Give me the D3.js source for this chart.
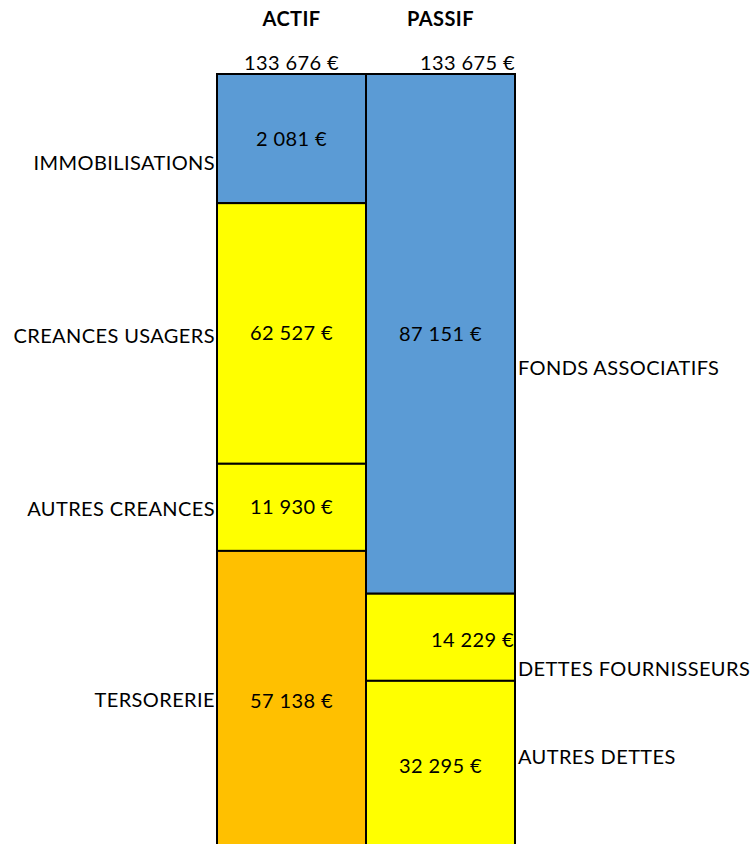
<!DOCTYPE html>
<html>
<head>
<meta charset="utf-8">
<script src="https://cdn.jsdelivr.net/npm/d3@7"></script>
<style>
  body { margin: 0; background: #fff; }
  text { font-family: Lato, "Open Sans", sans-serif; fill: #000; font-size: 20px; letter-spacing: 0.4px; }
</style>
</head>
<body>
<script>
(function(){

    //data
    var columns = ["ACTIF", "PASSIF"];
    var actifCats = ["IMMOBILISATIONS", "CREANCES USAGERS", "AUTRES CREANCES", "TERSORERIE"];
    var actifValues = [2081, 62527, 11930, 57138];
    var actifShares = [16.6, 33.5, 11.2, 38.7]; //height share of the bar
    var passifCats = ["FONDS ASSOCIATIFS", "DETTES FOURNISSEURS", "AUTRES DETTES"];
    var passifValues = [87151, 14229, 32295];
    var passifShares = [66.8, 11.2, 22.0];

    //styles / layout
    var actifColors = ["#5B9BD5", "#FFFF00", "#FFFF00", "#FFC000"];
    var passifColors = ["#5B9BD5", "#FFFF00", "#FFFF00"];
    var actifLabelShift = [24, 3, 2, -1];   //manual nudges of category labels
    var passifLabelShift = [34, 32, -9];

    var width = 752, height = 844;

    var svg = d3.select("body").append("svg")
        .attr("width", width)
        .attr("height", height);

    var x = d3.scaleBand().domain(columns).range([217, 515]).padding(0);
    var y = d3.scaleLinear().domain([0, 100]).range([74, 852]);

    var fr = d3.formatLocale({decimal: ",", thousands: " ", grouping: [3], currency: ["", " €"]});
    var euro = fr.format("$,.0f");

    function segments(cats, values, shares, colors, shifts){
        var ends = d3.cumsum(shares);
        return cats.map(function(c, i){
            return {cat: c, value: values[i], y0: ends[i] - shares[i], y1: ends[i], color: colors[i], shift: shifts[i]};
        });
    }

    var actif = segments(actifCats, actifValues, actifShares, actifColors, actifLabelShift);
    var passif = segments(passifCats, passifValues, passifShares, passifColors, passifLabelShift);

    function drawColumn(col, segs){
        var g = svg.append("g").attr("class", "col");
        g.selectAll("rect")
            .data(segs)
            .enter()
            .append("rect")
            .attr("x", x(col))
            .attr("width", x.bandwidth())
            .attr("y", function(d){ return y(d.y0); })
            .attr("height", function(d){ return y(d.y1) - y(d.y0); })
            .style("fill", function(d){ return d.color; })
            .style("stroke", "#000")
            .style("stroke-width", 2);
    }
    drawColumn("ACTIF", actif);
    drawColumn("PASSIF", passif);

    var base = 7; //baseline offset to centre text vertically

    //value labels
    svg.selectAll(".vA")
        .data(actif)
        .enter()
        .append("text")
        .attr("x", x("ACTIF") + x.bandwidth() / 2)
        .attr("y", function(d){ return (y(d.y0) + y(d.y1)) / 2 + base; })
        .attr("text-anchor", "middle")
        .text(function(d){ return euro(d.value); });

    svg.selectAll(".vP")
        .data(passif)
        .enter()
        .append("text")
        .attr("x", function(d, i){ return i == 1 ? x("PASSIF") + x.bandwidth() - 1 : x("PASSIF") + x.bandwidth() / 2; })
        .attr("y", function(d, i){ return (y(d.y0) + y(d.y1)) / 2 + base + (i == 1 ? 3 : 0); })
        .attr("text-anchor", function(d, i){ return i == 1 ? "end" : "middle"; })
        .text(function(d){ return euro(d.value); });

    //category labels
    svg.selectAll(".cA")
        .data(actif)
        .enter()
        .append("text")
        .attr("x", x("ACTIF") - 2)
        .attr("y", function(d){ return (y(d.y0) + y(d.y1)) / 2 + d.shift + base; })
        .attr("text-anchor", "end")
        .text(function(d){ return d.cat; });

    svg.selectAll(".cP")
        .data(passif)
        .enter()
        .append("text")
        .attr("x", x("PASSIF") + x.bandwidth() + 3)
        .attr("y", function(d){ return (y(d.y0) + y(d.y1)) / 2 + d.shift + base; })
        .attr("text-anchor", "start")
        .text(function(d){ return d.cat; });

    //column titles
    svg.selectAll(".title")
        .data(columns)
        .enter()
        .append("text")
        .attr("x", function(d){ return x(d) + x.bandwidth() / 2; })
        .attr("y", 26)
        .attr("text-anchor", "middle")
        .style("font-weight", "bold")
        .text(function(d){ return d; });

    //totals
    svg.append("text")
        .attr("x", x("ACTIF") + x.bandwidth() / 2)
        .attr("y", 70)
        .attr("text-anchor", "middle")
        .text(euro(d3.sum(actifValues)));

    svg.append("text")
        .attr("x", x("PASSIF") + x.bandwidth())
        .attr("y", 70)
        .attr("text-anchor", "end")
        .text(euro(d3.sum(passifValues)));

})();
</script>
</body>
</html>
